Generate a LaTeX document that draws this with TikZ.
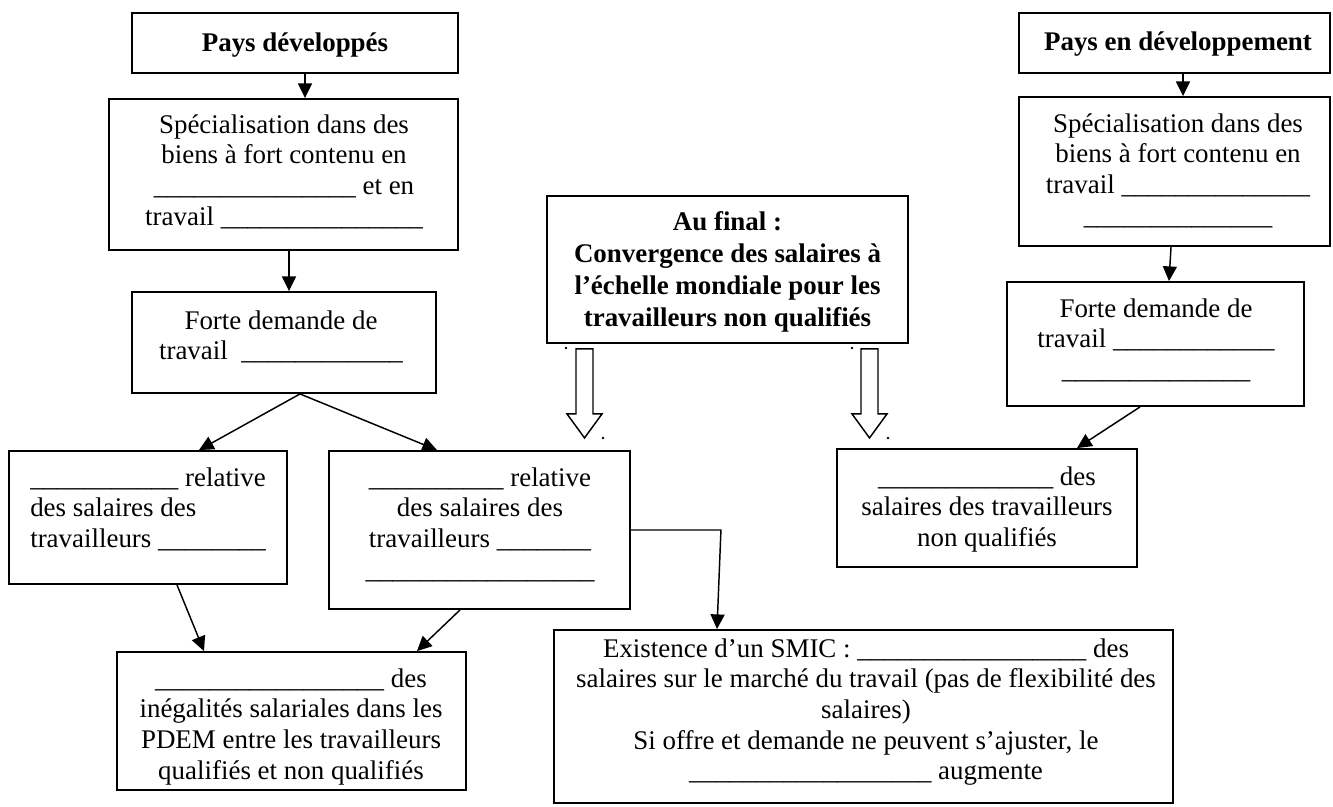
\documentclass[tikz,border=0pt]{standalone}
\usepackage{fontspec}
\setmainfont{Liberation Serif}
\usetikzlibrary{arrows.meta,calc,fit}
\ExplSyntaxOn
\cs_new:Npn \blanks #1 { \prg_replicate:nn {#1} {\_} }
\ExplSyntaxOff
\begin{document}
\begin{tikzpicture}[x=0.75pt,y=-0.75pt,
  box/.style={draw, line width=1.4pt, inner sep=0pt},
  txt/.style={font=\fontsize{20.2}{22.95}\selectfont, align=center, inner sep=0pt, anchor=north},
  ltxt/.style={font=\fontsize{20.2}{22.95}\selectfont, align=left, inner sep=0pt, anchor=north west},
  btxt/.style={font=\fontsize{20.2}{24}\selectfont\bfseries, align=center, inner sep=0pt, anchor=north},
  arr/.style={line width=1.1pt, -{Triangle[length=11pt,width=10.5pt]}},
  hollow/.style={line width=1.1pt, line join=miter}]
\fill[white] (0,0) rectangle (1333,806);
\useasboundingbox (0,0) rectangle (1333,806);

% boxes
\node[box, fit={(132,13) (458,73)}] (b1) {};
\node[box, fit={(109,99) (458,250)}] (b2) {};
\node[box, fit={(132,292) (436,393)}] (b3) {};
\node[box, fit={(9,451) (287,584)}] (b4) {};
\node[box, fit={(329,451) (630,609)}] (b5) {};
\node[box, fit={(117,652) (466,790)}] (b6) {};
\node[box, fit={(554,630) (1173,803)}] (smic) {};
\node[box, fit={(547,196) (908,343)}] (c) {};
\node[box, fit={(1019,13) (1330,73)}] (r1) {};
\node[box, fit={(1019,97) (1330,246)}] (r2) {};
\node[box, fit={(1007,282) (1304,406)}] (r3) {};
\node[box, fit={(837,449) (1137,567)}] (r5) {};

% texts
\node[btxt] (t1) at (295,28.6) {\strut Pays développés};
\node[txt] (t2) at (284,111.6) {\strut Spécialisation dans des\\biens à fort contenu en\\\blanks{15} et en\\travail \blanks{15}};
\node[txt] (t3) at (281,307.6) {\strut Forte demande de\\travail\ \ \blanks{12}};
\node[ltxt] (t4) at (30,464.6) {\strut\blanks{11} relative\\des salaires des\\travailleurs \blanks{8}};
\node[txt] (t5) at (480,464.6) {\strut\blanks{10} relative\\des salaires des\\travailleurs \blanks{7}\\\blanks{17}};
\node[txt] (t6) at (291,665.6) {\strut\blanks{17} des\\inégalités salariales dans les\\PDEM entre les travailleurs\\qualifiés et non qualifiés};
\node[txt] (t7) at (866,635.6) {\strut Existence d’un SMIC : \blanks{17} des\\salaires sur le marché du travail (pas de flexibilité des\\salaires)\\Si offre et demande ne peuvent s’ajuster, le\\\blanks{18} augmente};
\node[btxt] (tc) at (727.5,207.6) {\strut Au final :\\Convergence des salaires à\\l’échelle mondiale pour les\\travailleurs non qualifiés};
\node[btxt] (tr1) at (1178,27.6) {\strut Pays en développement};
\node[txt] (tr2) at (1178,110.6) {\strut Spécialisation dans des\\biens à fort contenu en\\travail \blanks{14}\\\blanks{14}};
\node[txt] (tr3) at (1156,295.6) {\strut Forte demande de\\travail \blanks{12}\\\blanks{14}};
\node[txt] (tr5) at (987,463.6) {\strut\blanks{13} des\\salaires des travailleurs\\non qualifiés};

% connectors
\draw[arr] ($(b1.south)+(10,0)$) -- ($(b2.north)+(21.5,0)$);
\draw[arr] ($(b2.south)+(5.5,0)$) -- ($(b3.north)+(5,0)$);
\draw[arr] ($(b3.south)+(16,0)$) -- ($(b4.north)+(51,0)$);
\draw[arr] ($(b3.south)+(16,0)$) -- ($(b5.north)+(-42.5,0)$);
\draw[arr] ($(b4.south)+(29,0)$) -- ($(b6.north)+(-87.5,0)$);
\draw[arr] ($(b5.south)+(-19.5,0)$) -- ($(b6.north)+(125.5,0)$);
\draw[arr] (b5.east) -- ($(b5.east)+(90,0)$) -- ($(smic.north)+(-146.5,0)$);
\draw[arr] ($(r1.south)+(8.5,0)$) -- ($(r2.north)+(8.5,0)$);
\draw[arr] ($(r2.south)+(-3.5,0)$) -- ($(r3.north)+(13.5,0)$);
\draw[arr] ($(r3.south)+(-15.5,0)$) -- ($(r5.north)+(90,0)$);

% hollow arrows from the conclusion box
\coordinate (h1) at ($(c.south)+(-143,5)$);
\coordinate (h2) at ($(c.south)+(142,5)$);
\foreach \h in {h1,h2}
  \draw[hollow] (\h) ++(-8.5,0) -- ++(0,65) -- ++(-9,0) -- ++(17.5,24) -- ++(17.5,-24) -- ++(-9,0) -- ++(0,-65) -- cycle;

% small stray dots
\fill (566,348) circle (1.4);
\fill (603,438) circle (1.4);
\fill (852,348) circle (1.4);
\fill (888,438) circle (1.4);
\end{tikzpicture}
\end{document}
